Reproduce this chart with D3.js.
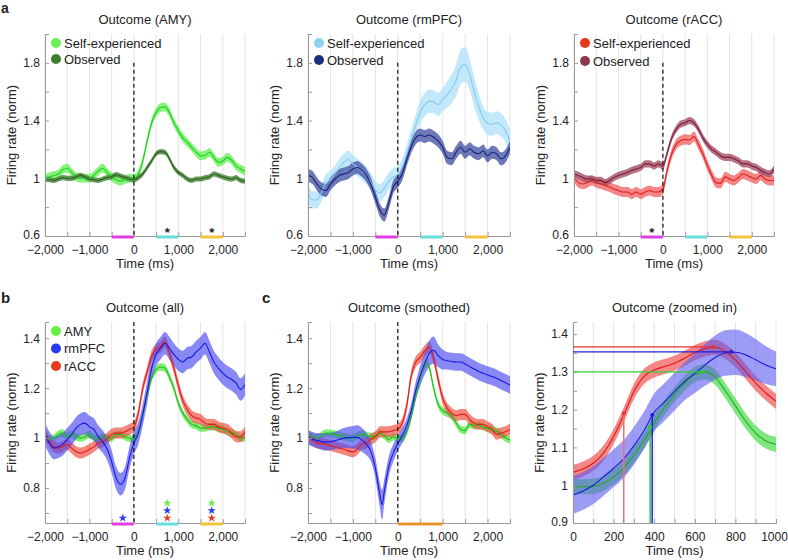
<!DOCTYPE html>
<html><head><meta charset="utf-8">
<script src="https://cdn.jsdelivr.net/npm/d3@7"></script>
<style>
body{margin:0;background:#fff}
text{font-family:"Liberation Sans",Arial,Helvetica,sans-serif;fill:#222}
</style>
</head><body>
<svg id="chart" width="788" height="560"></svg>
<script>
// ---------- DATA ----------
const timesMs = [-2000,-1900,-1800,-1700,-1600,-1500,-1400,-1300,-1200,-1100,-1000,-900,-800,-700,-600,-500,-400,-300,-200,-100,0,100,200,300,400,500,600,700,800,900,1000,1100,1200,1300,1400,1500,1600,1700,1800,1900,2000,2100,2200,2300,2400,2500];

// Panel a: AMY
const amySelf = [1.0,1.01,1.02,1.03,1.06,1.07,1.04,1.01,1.0,1.0,1.0,1.02,1.05,1.07,1.04,1.01,0.99,0.98,0.99,1.0,
  1.0,1.03,1.12,1.26,1.385,1.455,1.49,1.495,1.455,1.385,1.33,1.28,1.25,1.215,1.18,1.155,1.16,1.18,1.145,1.11,1.12,1.145,1.125,1.085,1.065,1.05];
const amyObs = [0.995,0.99,0.985,0.995,1.005,1.0,1.0,1.01,1.02,1.01,0.995,0.99,0.985,0.995,1.005,1.01,1.025,1.015,1.005,0.995,
  0.99,1.005,1.03,1.075,1.12,1.17,1.185,1.18,1.135,1.075,1.04,1.02,0.995,0.985,0.995,0.995,1.005,1.01,1.03,1.02,1.01,1.0,0.995,1.005,0.985,0.98];
// Panel a: rmPFC
const rmpfcSelf = [0.9,0.85,0.85,0.9,0.97,0.99,1.03,1.075,1.11,1.13,1.1,1.075,1.05,1.02,0.975,0.92,0.9,0.93,0.98,1.01,
  1.02,1.08,1.17,1.27,1.37,1.46,1.51,1.535,1.53,1.51,1.545,1.58,1.62,1.68,1.77,1.79,1.72,1.6,1.5,1.42,1.38,1.375,1.385,1.37,1.33,1.26];
const rmpfcSelfSem = [0.06,0.06,0.06,0.06,0.06,0.06,0.06,0.06,0.06,0.06,0.06,0.06,0.06,0.06,0.06,0.06,0.06,0.06,0.06,0.06,
  0.06,0.06,0.06,0.07,0.07,0.08,0.08,0.08,0.08,0.08,0.08,0.09,0.1,0.11,0.12,0.12,0.11,0.1,0.09,0.08,0.08,0.08,0.08,0.08,0.08,0.08];
const rmpfcObs = [1.02,1.005,0.96,0.925,0.915,0.96,0.995,1.02,1.03,1.04,1.065,1.075,1.055,1.02,0.96,0.87,0.78,0.745,0.83,0.94,
  0.98,1.03,1.13,1.22,1.28,1.3,1.29,1.3,1.285,1.26,1.215,1.145,1.135,1.18,1.215,1.18,1.205,1.18,1.17,1.19,1.155,1.18,1.17,1.135,1.155,1.215];
// Panel a: rACC
const raccSelf = [1.005,0.97,0.96,0.97,0.985,0.97,0.96,0.95,0.94,0.925,0.915,0.905,0.905,0.89,0.905,0.89,0.905,0.915,0.905,0.905,
  0.925,1.06,1.17,1.235,1.26,1.27,1.265,1.29,1.235,1.17,1.09,1.02,0.97,0.965,1.01,0.995,0.985,1.005,1.03,1.02,1.005,0.995,1.02,0.995,0.985,0.985];
const raccObs = [1.03,1.02,1.005,0.995,0.995,0.985,0.985,0.97,0.985,1.005,1.02,1.03,1.04,1.055,1.065,1.075,1.1,1.1,1.085,1.1,
  1.085,1.18,1.28,1.34,1.375,1.385,1.4,1.385,1.34,1.28,1.235,1.2,1.18,1.155,1.145,1.145,1.135,1.12,1.1,1.1,1.085,1.075,1.055,1.04,1.03,1.065];

// Panel b: all
const allAmy = [1.005,0.995,1.0,1.015,1.02,1.005,1.015,1.005,1.0,1.005,1.015,1.0,0.995,1.005,1.0,1.0,1.015,1.015,1.005,1.0,
  0.995,1.025,1.095,1.175,1.24,1.275,1.285,1.28,1.245,1.2,1.14,1.1,1.075,1.055,1.05,1.04,1.04,1.045,1.045,1.04,1.035,1.025,1.02,1.015,1.0,1.0];
const allRmpfc = [1.015,0.98,0.96,0.965,0.975,0.995,1.015,1.04,1.055,1.06,1.045,1.035,1.005,0.985,0.955,0.905,0.84,0.815,0.84,0.92,
  0.98,1.02,1.095,1.185,1.28,1.335,1.36,1.38,1.36,1.335,1.315,1.305,1.32,1.325,1.345,1.36,1.38,1.345,1.305,1.28,1.26,1.245,1.235,1.22,1.195,1.215];
const allRacc = [1.015,0.985,0.965,0.96,0.965,0.975,0.96,0.945,0.94,0.945,0.955,0.965,0.98,0.985,1.0,1.015,1.02,1.02,1.025,1.035,
  1.045,1.1,1.2,1.265,1.33,1.355,1.365,1.385,1.34,1.28,1.21,1.15,1.115,1.09,1.08,1.075,1.06,1.055,1.055,1.045,1.04,1.035,1.02,1.005,1.005,1.025];
const sigTimes = [-250, 750, 1750];
const sigAmy = [false, true, true];
const sigRmpfc = [true, true, true];
const sigRacc = [false, true, true];

// Panel c: smoothed
const smoothTimes = [-2000,-1800,-1600,-1400,-1200,-1000,-900,-800,-700,-600,-500,-450,-400,-350,-300,-250,-200,-100,0,100,200,300,400,500,600,650,700,800,900,1000,1100,1200,1300,1400,1500,1600,1700,1800,1900,2000,2100,2200,2300,2400,2500];
const smoothAmy = [1.015,1.0,1.02,1.015,1.005,1.0,1.01,1.015,1.01,1.005,1.01,1.015,1.02,1.015,1.01,1.0,0.995,1.005,0.998,0.998,1.025,1.085,1.165,1.24,1.29,1.3,1.285,1.2,1.135,1.11,1.1,1.09,1.06,1.035,1.03,1.055,1.05,1.053,1.045,1.04,1.035,1.027,1.015,1.0,0.993];
const smoothRacc = [1.005,0.98,0.975,0.965,0.955,0.945,0.955,0.975,0.98,0.995,1.005,1.015,1.025,1.025,1.025,1.025,1.025,1.03,1.036,1.06,1.13,1.25,1.305,1.323,1.35,1.36,1.365,1.32,1.235,1.16,1.12,1.1,1.09,1.095,1.095,1.075,1.06,1.055,1.055,1.045,1.035,1.015,1.02,1.025,1.035];
const smoothRmpfc = [1.003,0.99,0.984,0.99,1.0,1.003,1.003,0.993,0.976,0.947,0.88,0.827,0.773,0.733,0.787,0.84,0.887,0.94,0.978,1.01,1.05,1.11,1.19,1.25,1.3,1.32,1.34,1.352,1.33,1.315,1.31,1.307,1.305,1.305,1.297,1.287,1.277,1.267,1.26,1.253,1.247,1.24,1.23,1.222,1.213];
const smoothRmpfcSem = [0.03,0.03,0.035,0.035,0.04,0.045,0.048,0.048,0.045,0.04,0.04,0.045,0.05,0.06,0.05,0.045,0.04,0.035,0.03,0.03,0.03,0.03,0.035,0.04,0.045,0.05,0.05,0.055,0.045,0.04,0.035,0.035,0.035,0.035,0.035,0.035,0.035,0.035,0.035,0.035,0.035,0.035,0.035,0.035,0.035];

// Panel c: zoomed in
const zoomTimes = [0,50,100,150,200,250,300,350,400,450,500,550,600,650,700,750,800,850,900,950,1000];
const zoomRacc = [1.034,1.043,1.058,1.085,1.129,1.186,1.248,1.288,1.305,1.314,1.323,1.336,1.351,1.361,1.365,1.354,1.332,1.301,1.27,1.244,1.222];
const zoomRmpfc = [0.974,0.985,1.0,1.022,1.045,1.07,1.104,1.145,1.193,1.22,1.248,1.275,1.296,1.318,1.338,1.35,1.352,1.345,1.332,1.318,1.308];
const zoomRmpfcSem = [0.05,0.05,0.05,0.05,0.05,0.05,0.05,0.05,0.05,0.05,0.05,0.05,0.052,0.055,0.058,0.06,0.06,0.058,0.055,0.05,0.046];
const zoomAmy = [0.996,0.996,0.997,1.005,1.022,1.045,1.08,1.118,1.165,1.205,1.24,1.27,1.293,1.3,1.286,1.25,1.21,1.17,1.138,1.117,1.108];
const markerRegions = ["rACC", "rmPFC", "AMY"];
const peakTimes = [690, 780, 640];
const peakValues = [1.366, 1.353, 1.30];
const halfTimes = [250, 390, 380];
const halfValues = [1.19, 1.186, 1.154];

// epochs (ms) marked under the axis
const epochStarts = [-500, 500, 1500];
const epochEnds = [0, 1000, 2000];
const epochTimesC = [0, 1000];

// axis ticks
const longTicks = [-2000,-1500,-1000,-500,0,500,1000,1500,2000,2500];
const longLabels = [-2000,-1000,0,1000,2000];
const aYTicks = [0.6,0.8,1.0,1.2,1.4,1.6,1.8,2.0];
const aYLabels = [0.6,1,1.4,1.8];
const bYTicks = [0.7,0.8,0.9,1.0,1.1,1.2,1.3,1.4];
const bYLabels = [0.8,1,1.2,1.4];
const zXTicks = [0,100,200,300,400,500,600,700,800,900,1000];
const zXLabels = [0,200,400,600,800,1000];
const zYTicks = [0.9,0.95,1.0,1.05,1.1,1.15,1.2,1.25,1.3,1.35,1.4];
const zYLabels = [0.9,1,1.1,1.2,1.3,1.4];

// ---------- STYLE ----------
const C = {
  amySelf:{line:"#22cc22",band:"#5cf04c",op:0.75,dot:"#6cf05a"},
  amyObs:{line:"#2c5e22",band:"#4d8a40",op:0.85,dot:"#3f7d32"},
  rmSelf:{line:"#86c8ee",band:"#b2e2fa",op:0.8,dot:"#8fd0f0"},
  rmObs:{line:"#18227a",band:"#4a58a6",op:0.8,dot:"#1f2f80"},
  raSelf:{line:"#e41c1c",band:"#f06868",op:0.8,dot:"#e8381c"},
  raObs:{line:"#7e1e3a",band:"#a45068",op:0.8,dot:"#8e3850"},
  amy:{line:"#22bb22",band:"#55e844",op:0.75,dot:"#66ee44"},
  rm:{line:"#1818e0",band:"#4a4af0",op:0.65,dot:"#2a3af0"},
  ra:{line:"#e41c1c",band:"#ee5444",op:0.7,dot:"#e83a1c"}
};
const epochColors = ["#e040e0","#66dddd","#f2c33c"];

const svg = d3.select("#chart");
const fmtComma = d3.format(",");
const fmtNum = d3.format("~g");
let clipId = 0;

function mk(times, means, sem){
  return times.map((t,i)=>({t, m:means[i], s: Array.isArray(sem)? sem[i] : sem}));
}

function panel(cfg){
  const g = svg.append("g");
  const x = d3.scaleLinear().domain(cfg.xDomain).range([cfg.left, cfg.left+cfg.width]);
  const y = d3.scaleLinear().domain(cfg.yDomain).range([cfg.top+cfg.height, cfg.top]);
  const bottom = cfg.top+cfg.height;
  // grid
  g.append("g").selectAll("line").data(cfg.grid).join("line")
    .attr("x1",d=>x(d)).attr("x2",d=>x(d)).attr("y1",cfg.top).attr("y2",bottom)
    .attr("stroke","#e4e4e4").attr("stroke-width",1);
  // clip
  const id = "clip"+(clipId++);
  g.append("clipPath").attr("id",id).append("rect")
    .attr("x",cfg.left).attr("y",cfg.top).attr("width",cfg.width).attr("height",cfg.height);
  const plot = g.append("g").attr("clip-path",`url(#${id})`);
  const area = d3.area().x(d=>x(d.t)).y0(d=>y(d.m-d.s)).y1(d=>y(d.m+d.s)).curve(d3.curveMonotoneX);
  const line = d3.line().x(d=>x(d.t)).y(d=>y(d.m)).curve(d3.curveMonotoneX);
  cfg.series.forEach(s=>{
    plot.append("path").attr("d",area(s.data)).attr("fill",s.style.band).attr("fill-opacity",s.style.op);
  });
  cfg.series.forEach(s=>{
    plot.append("path").attr("d",line(s.data)).attr("fill","none").attr("stroke",s.style.line).attr("stroke-width",1.1);
  });
  // axes
  const ax = g.append("g").attr("transform",`translate(0,${bottom})`)
    .call(d3.axisBottom(x).tickValues(cfg.xTicks).tickSize(-4).tickPadding(9)
      .tickFormat(d=>cfg.xLabels.includes(d)? cfg.xFmt(d):""));
  const ay = g.append("g").attr("transform",`translate(${cfg.left},0)`)
    .call(d3.axisLeft(y).tickValues(cfg.yTicks).tickSize(-4).tickPadding(5)
      .tickFormat(d=>cfg.yLabels.some(v=>Math.abs(v-d)<1e-9)? fmtNum(d):""));
  [ax,ay].forEach(a=>{
    a.select(".domain").attr("stroke","#9a9a9a");
    a.selectAll(".tick line").attr("stroke","#9a9a9a");
    a.selectAll("text").attr("font-size",12).attr("fill","#222")
      .attr("font-family",'"Liberation Sans",Arial,sans-serif');
  });
  // lowest y label sits slightly above the x labels
  ay.selectAll(".tick text").filter(d=>Math.abs(d-cfg.yDomain[0])<1e-9).attr("dy","0.2em");
  if(cfg.lastLabelShift){
    ax.selectAll(".tick text").filter(d=>d===cfg.xDomain[1]).attr("dx",cfg.lastLabelShift);
  }
  // epoch bars
  if(cfg.epochs){
    g.append("g").selectAll("rect").data(cfg.epochs).join("rect")
      .attr("x",d=>x(d.s)).attr("width",d=>x(d.e)-x(d.s))
      .attr("y",bottom-0.5).attr("height",3).attr("fill",d=>d.c);
  }
  // dashed zero line
  if(cfg.dashTop!==undefined){
    g.append("line").attr("x1",x(0)).attr("x2",x(0)).attr("y1",y(cfg.dashTop)).attr("y2",bottom)
      .attr("stroke","#111").attr("stroke-width",1.2).attr("stroke-dasharray","4,3");
  }
  // title and labels
  g.append("text").attr("x",cfg.left+cfg.width/2).attr("y",cfg.top-10)
    .attr("text-anchor","middle").attr("font-size",13).text(cfg.title);
  g.append("text").attr("x",cfg.left+cfg.width/2).attr("y",bottom+32)
    .attr("text-anchor","middle").attr("font-size",13).text("Time (ms)");
  g.append("text").attr("transform",`translate(${cfg.left-29},${cfg.top+cfg.height/2}) rotate(-90)`)
    .attr("text-anchor","middle").attr("font-size",13).text("Firing rate (norm)");
  // legend
  if(cfg.legend){
    cfg.legend.forEach((l,i)=>{
      const ly = cfg.top+9+i*cfg.legendStep;
      g.append("circle").attr("cx",cfg.left+11).attr("cy",ly).attr("r",5).attr("fill",l.style.dot);
      g.append("text").attr("x",cfg.left+19).attr("y",ly+4.5).attr("font-size",13).text(l.name);
    });
  }
  return {g,x,y,bottom};
}

const aEpochs = epochStarts.map((s,i)=>({s,e:epochEnds[i],c:epochColors[i]}));

// ---- Panel a ----
const p1 = panel({left:45,top:34,width:200,height:202,xDomain:[-2000,2500],yDomain:[0.6,2.0],
  grid:longTicks,xTicks:longTicks,xLabels:longLabels,xFmt:fmtComma,yTicks:aYTicks,yLabels:aYLabels,
  title:"Outcome (AMY)",dashTop:1.8,epochs:aEpochs,legendStep:16,
  series:[{data:mk(timesMs,amySelf,0.03),style:C.amySelf},{data:mk(timesMs,amyObs,0.018),style:C.amyObs}],
  legend:[{name:"Self-experienced",style:C.amySelf},{name:"Observed",style:C.amyObs}]});
const p2 = panel({left:308,top:34,width:202,height:202,xDomain:[-2000,2500],yDomain:[0.6,2.0],
  grid:longTicks,xTicks:longTicks,xLabels:longLabels,xFmt:fmtComma,yTicks:aYTicks,yLabels:aYLabels,
  title:"Outcome (rmPFC)",dashTop:1.8,epochs:aEpochs,legendStep:17,
  series:[{data:mk(timesMs,rmpfcSelf,rmpfcSelfSem),style:C.rmSelf},{data:mk(timesMs,rmpfcObs,0.045),style:C.rmObs}],
  legend:[{name:"Self-experienced",style:C.rmSelf},{name:"Observed",style:C.rmObs}]});
const p3 = panel({left:574,top:34,width:200,height:202,xDomain:[-2000,2500],yDomain:[0.6,2.0],
  grid:longTicks,xTicks:longTicks,xLabels:longLabels,xFmt:fmtComma,yTicks:aYTicks,yLabels:aYLabels,
  title:"Outcome (rACC)",dashTop:1.8,epochs:aEpochs,legendStep:18,
  series:[{data:mk(timesMs,raccSelf,0.035),style:C.raSelf},{data:mk(timesMs,raccObs,0.025),style:C.raObs}],
  legend:[{name:"Self-experienced",style:C.raSelf},{name:"Observed",style:C.raObs}]});
// black asterisks (self vs observed significance)
[[p1,[750,1750]],[p3,[-250]]].forEach(([p,ts])=>{
  ts.forEach(t=>p.g.append("text").attr("x",p.x(t)).attr("y",p.bottom+1).attr("text-anchor","middle")
    .attr("font-size",13).attr("font-weight","bold").text("*"));
});

// ---- Panel b ----
const pb = panel({left:45,top:322,width:200,height:201,xDomain:[-2000,2500],yDomain:[0.66,1.465],
  grid:longTicks,xTicks:longTicks,xLabels:longLabels,xFmt:fmtComma,yTicks:bYTicks,yLabels:bYLabels,
  title:"Outcome (all)",dashTop:1.465,epochs:aEpochs,legendStep:17.5,
  series:[{data:mk(timesMs,allAmy,0.015),style:C.amy},{data:mk(timesMs,allRacc,0.022),style:C.ra},{data:mk(timesMs,allRmpfc,0.045),style:C.rm}],
  legend:[{name:"AMY",style:C.amy},{name:"rmPFC",style:C.rm},{name:"rACC",style:C.ra}]});
// coloured stars stacked from the axis upward
const starSym = d3.symbol().type(d3.symbolStar).size(22);
sigTimes.forEach((t,i)=>{
  const present = [];
  if(sigRacc[i]) present.push(C.ra.dot);
  if(sigRmpfc[i]) present.push(C.rm.dot);
  if(sigAmy[i]) present.push(C.amy.dot);
  present.forEach((col,k)=>{
    pb.g.append("path").attr("d",starSym()).attr("fill",col)
      .attr("transform",`translate(${pb.x(t)},${pb.bottom-5-k*7.5})`);
  });
});

// ---- Panel c ----
panel({left:308,top:322,width:202,height:201,xDomain:[-2000,2500],yDomain:[0.66,1.465],
  grid:longTicks,xTicks:longTicks,xLabels:longLabels,xFmt:fmtComma,yTicks:bYTicks,yLabels:bYLabels,
  title:"Outcome (smoothed)",dashTop:1.465,epochs:[{s:epochTimesC[0],e:epochTimesC[1],c:"#e8952a"}],
  series:[{data:mk(smoothTimes,smoothAmy,0.015),style:C.amy},{data:mk(smoothTimes,smoothRacc,0.022),style:C.ra},{data:mk(smoothTimes,smoothRmpfc,smoothRmpfcSem),style:C.rm}]});

const zStyles = {rACC:{line:"#dd1818",band:"#f06060",op:0.75,mk:"#ee3030",vl:"#f07070"},
  rmPFC:{line:"#1a1ad8",band:"#5a5af0",op:0.6,mk:"#2020d0",vl:"#2020e0"},
  AMY:{line:"#22aa22",band:"#55dd55",op:0.75,mk:"#33cc33",vl:"#33cc33"}};
const pz = panel({left:573,top:322,width:203,height:201,xDomain:[0,1000],yDomain:[0.9,1.432],
  grid:zXTicks,xTicks:zXTicks,xLabels:zXLabels,xFmt:d3.format("d"),yTicks:zYTicks,yLabels:zYLabels,
  title:"Outcome (zoomed in)",lastLabelShift:-2,
  series:[{data:mk(zoomTimes,zoomAmy,0.02),style:zStyles.AMY},{data:mk(zoomTimes,zoomRacc,0.02),style:zStyles.rACC},{data:mk(zoomTimes,zoomRmpfc,zoomRmpfcSem),style:zStyles.rmPFC}]});
markerRegions.forEach((r,i)=>{
  const st = zStyles[r];
  pz.g.append("line").attr("x1",pz.x(0)).attr("x2",pz.x(peakTimes[i])).attr("y1",pz.y(peakValues[i])).attr("y2",pz.y(peakValues[i]))
    .attr("stroke",st.mk).attr("stroke-width",1.3);
  pz.g.append("line").attr("x1",pz.x(halfTimes[i])).attr("x2",pz.x(halfTimes[i])).attr("y1",pz.bottom).attr("y2",pz.y(halfValues[i]))
    .attr("stroke",st.vl).attr("stroke-width",1.5);
  pz.g.append("circle").attr("cx",pz.x(peakTimes[i])).attr("cy",pz.y(peakValues[i])).attr("r",2).attr("fill",st.mk);
  pz.g.append("circle").attr("cx",pz.x(halfTimes[i])).attr("cy",pz.y(halfValues[i])).attr("r",2).attr("fill",st.mk);
});

// panel letters
[["a",1,13,14],["b",1,303,15],["c",262,303,15]].forEach(([t,x,y,fs])=>{
  svg.append("text").attr("x",x).attr("y",y).attr("font-size",fs).attr("font-weight","bold").text(t);
});
</script>
</body></html>
